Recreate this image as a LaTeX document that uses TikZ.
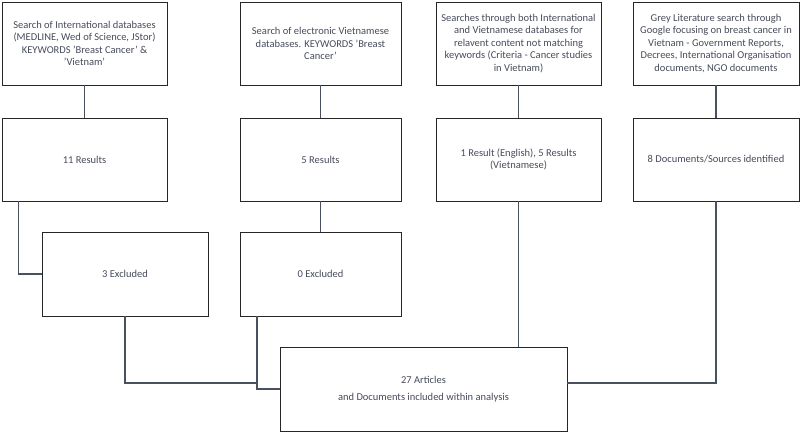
\documentclass[tikz,border=0pt]{standalone}
\usepackage{fontspec}
\setmainfont{Carlito}
\usepackage{tikz}
\usetikzlibrary{calc,positioning}
\definecolor{boxText}{RGB}{70,75,90}
\definecolor{linkGrey}{RGB}{72,82,95}

\begin{document}
\begin{tikzpicture}[x=1pt,y=-1pt,
  every node/.style={font=\fontsize{10.5}{12.5}\selectfont,text=boxText},
  stage/.style={draw=black!85,line width=0.9pt,align=center,minimum height=83,inner sep=2pt},
  link/.style={draw=linkGrey,line width=1.6pt}]
  \useasboundingbox (0,0) rectangle (800,433);
  % search sources
  \node[stage,minimum width=165] (src1) at (84.5,43.5){Search of International databases\\(MEDLINE, Wed of Science, JStor)\\KEYWORDS 'Breast Cancer' \&\\'Vietnam'};
  \node[stage,minimum width=161] (src2) at (320.5,43.5){Search of electronic Vietnamese\\databases. KEYWORDS 'Breast\\Cancer'};
  \node[stage,minimum width=165] (src3) at (518.5,43.5){Searches through both International\\and Vietnamese databases for\\relavent content not matching\\keywords (Criteria - Cancer studies\\in Vietnam)};
  \node[stage,minimum width=166] (src4) at (716,43.5){Grey Literature search through\\Google focusing on breast cancer in\\Vietnam - Government Reports,\\Decrees, International Organisation\\documents, NGO documents};
  % results
  \node[stage,minimum width=165] (res1) at (84.5,159.5){11 Results};
  \node[stage,minimum width=161] (res2) at (320.5,159.5){5 Results};
  \node[stage,minimum width=165] (res3) at (518.5,159.5){1 Result (English), 5 Results\\(Vietnamese)};
  \node[stage,minimum width=166] (res4) at (716,159.5){8 Documents/Sources identified};
  % exclusions
  \node[stage,minimum width=166,minimum height=84] (excl1) at (125,274){3 Excluded};
  \node[stage,minimum width=161,minimum height=84] (excl2) at (320.5,274){0 Excluded};
  % final
  \node[stage,minimum width=287,minimum height=84] (final) at (423.5,389){27 Articles\\[5pt]and Documents included within analysis};
  % connectors
  \draw[link] (src1) -- (res1);
  \draw[link] (src2) -- (res2);
  \draw[link] (src3) -- (res3);
  \draw[link] (src4) -- (res4);
  \coordinate (drop1) at ($(res1.south west)+(17,0)$);
  \draw[link] (drop1) |- (excl1.west);
  \draw[link] (res2) -- (excl2);
  \coordinate (join) at (257,383);
  \draw[link] (excl1.south) |- (join);
  \draw[link] (join |- excl2.south) |- (final.west);
  \draw[link] (res3.south) -- (res3.south |- final.north);
  \draw[link] (res4.south) |- ($(final.east)+(0,-6)$);
\end{tikzpicture}
\end{document}
